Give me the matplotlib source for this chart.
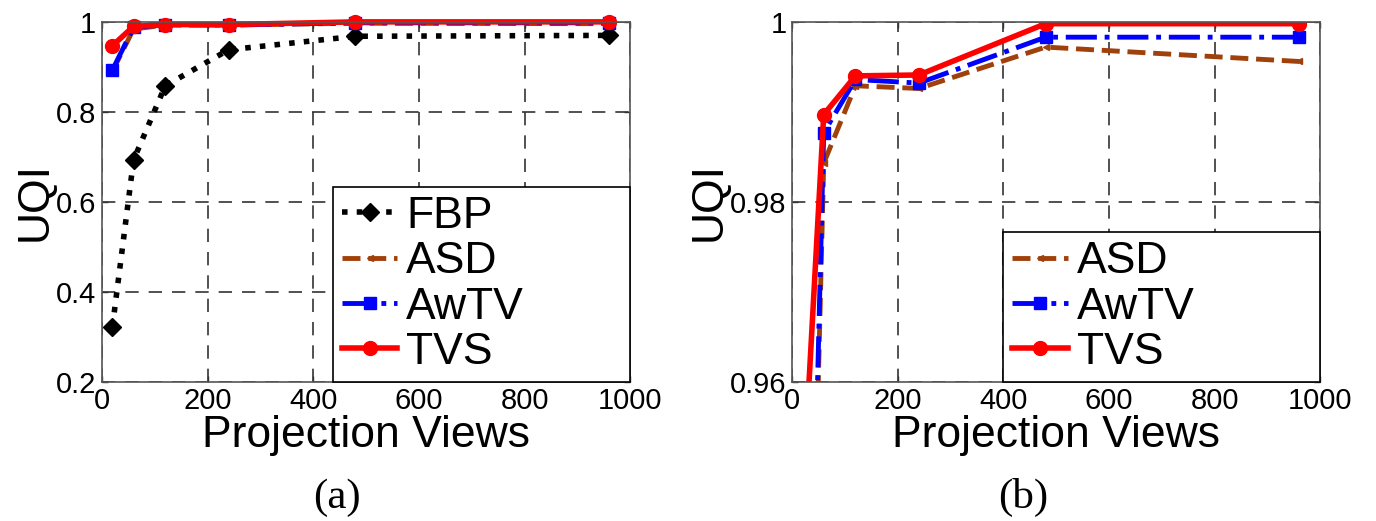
import matplotlib.pyplot as plt

plt.rcParams['font.family'] = ['Liberation Sans', 'DejaVu Sans']

views = [20, 60, 120, 240, 480, 960]

# (a) full range
fbp_a = [0.322, 0.693, 0.858, 0.938, 0.968, 0.970]
asd_a = [0.890, 0.984, 0.993, 0.993, 0.997, 0.996]
awtv_a = [0.893, 0.988, 0.994, 0.993, 0.998, 0.998]
tvs_a = [0.947, 0.990, 0.994, 0.994, 1.000, 1.000]

# (b) zoomed
asd_b = [0.890, 0.9843, 0.9929, 0.9926, 0.9972, 0.9956]
awtv_b = [0.893, 0.9877, 0.9936, 0.9932, 0.9983, 0.9983]
tvs_b = [0.947, 0.9897, 0.9940, 0.9941, 0.9998, 0.9998]

xticks = [0, 200, 400, 600, 800, 1000]
yticks_a = [0.2, 0.4, 0.6, 0.8, 1]
yticks_b = [0.96, 0.98, 1]
ylabels_a = ['0.2', '0.4', '0.6', '0.8', '1']
ylabels_b = ['0.96', '0.98', '1']

brown = '#a0400a'


def style_axes(ax, yticks, ylabels, ylim):
    ax.set_xlim(0, 1000)
    ax.set_ylim(ylim)
    ax.set_xticks(xticks)
    ax.set_yticks(yticks)
    ax.set_yticklabels(ylabels)
    ax.tick_params(direction='in', labelsize=21, top=True, right=True,
                   length=4, width=1, colors='#333333', labelcolor='black', pad=4)
    ax.grid(True, color='#333333', linestyle=(0, (8, 6)), linewidth=1.2)
    for s in ax.spines.values():
        s.set_color('#555555')
        s.set_linewidth(1.2)
    ax.set_xlabel('Projection Views', fontsize=32, labelpad=0)
    ax.set_ylabel('UQI', fontsize=32, labelpad=0)


def add_legend(ax, x0, h):
    leg = ax.legend(loc='lower left', bbox_to_anchor=(x0, 0, 1 - x0, h),
                    mode='expand', fontsize=32, fancybox=False, framealpha=1,
                    edgecolor='black', borderaxespad=0, handlelength=1.25,
                    handletextpad=0.2, labelspacing=0.1, borderpad=0.2)
    leg.get_frame().set_linewidth(1.2)


fig = plt.figure(figsize=(13.76, 5.21), dpi=100)
ax1 = fig.add_axes([0.074, 0.267, 0.384, 0.691])
ax2 = fig.add_axes([0.5756, 0.267, 0.384, 0.691])

ax1.plot(views, fbp_a, color='black', linestyle=':', linewidth=4, marker='D',
         markersize=9, label='FBP', clip_on=False)
ax1.plot(views, asd_a, color=brown, linestyle='--', linewidth=3.5, marker='<',
         markersize=4, label='ASD', clip_on=False)
ax1.plot(views, awtv_a, color='blue', linestyle='-.', linewidth=3.5, marker='s',
         markersize=9, label='AwTV', clip_on=False)
ax1.plot(views, tvs_a, color='red', linestyle='-', linewidth=4, marker='o',
         markersize=10, label='TVS', clip_on=False)
style_axes(ax1, yticks_a, ylabels_a, (0.2, 1))
add_legend(ax1, 0.4375, 0.57)

ax2.plot(views, asd_b, color=brown, linestyle='--', linewidth=3.5, marker='<',
         markersize=4, label='ASD')
ax2.plot(views, awtv_b, color='blue', linestyle='-.', linewidth=3.5, marker='s',
         markersize=9, label='AwTV')
ax2.plot(views, tvs_b, color='red', linestyle='-', linewidth=4, marker='o',
         markersize=10, label='TVS')
style_axes(ax2, yticks_b, ylabels_b, (0.96, 1))
add_legend(ax2, 0.40, 0.42)

fig.text(0.245, 0.025, '(a)', fontsize=31, family=['Liberation Serif', 'DejaVu Serif'],
         ha='center', va='baseline')
fig.text(0.7435, 0.025, '(b)', fontsize=31, family=['Liberation Serif', 'DejaVu Serif'],
         ha='center', va='baseline')

fig.savefig('out.png', dpi=100, facecolor='white')
